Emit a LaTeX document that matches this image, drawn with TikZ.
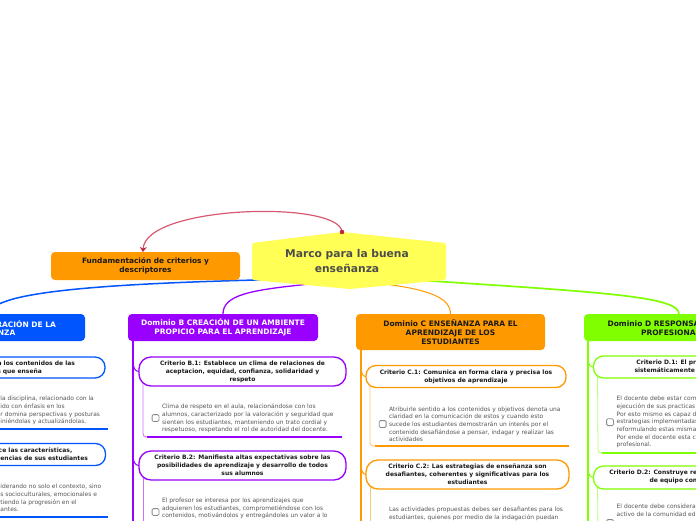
\documentclass[tikz,border=0pt]{standalone}
\usepackage{fontspec}
\setmainfont{DejaVu Sans}
\usetikzlibrary{arrows.meta}
\definecolor{cblue}{HTML}{0055FF}
\definecolor{cpurple}{HTML}{9900FF}
\definecolor{corange}{HTML}{FF9900}
\definecolor{cgreen}{HTML}{80FF00}
\definecolor{cyellow}{HTML}{FFFF55}
\definecolor{cred}{HTML}{D65A70}
\definecolor{cdred}{HTML}{C0283C}
\definecolor{descgray}{HTML}{555555}
\definecolor{textdark}{HTML}{1A1A1A}
\definecolor{centertext}{HTML}{4D4D4D}
\definecolor{boxgray}{HTML}{8A8A8A}
\pgfdeclarelayer{bg}
\pgfsetlayers{bg,main}
\tikzset{
  every node/.style={inner sep=0pt, outer sep=0pt},
  domainbox/.style={rounded corners=4pt, minimum height=27pt, minimum width=190pt},
  titletext/.style={font=\bfseries\fontsize{7.5}{8.7}\selectfont, align=center},
  pill/.style={draw, line width=1.3pt, fill=white, minimum width=207pt},
  crittext/.style={font=\bfseries\fontsize{6}{8}\selectfont, align=center, text=textdark},
  desctext/.style={font=\fontsize{5.95}{7.7}\selectfont, align=left, text=descgray, anchor=west},
  checkbox/.style={draw=boxgray, line width=0.8pt, fill=white, rounded corners=1.2pt, minimum size=6.8pt},
  colline/.style={line width=1.1pt},
  branch/.style={line width=1pt},
  stem/.style={line width=0.8pt},
  underline/.style={line width=2.6pt},
}
\begin{document}
\begin{tikzpicture}[x=1pt,y=-1pt]
\useasboundingbox (0,0) rectangle (696,520);

% ---------- central node ----------
\fill[cyellow, rounded corners=2.5pt] (252,243) -- (342,232) -- (446,243) -- (446,280) -- (350,289) -- (252,280) -- cycle;
\node[font=\bfseries\fontsize{10.7}{14.3}\selectfont, text=centertext, align=center] (center) at (347,261) {Marco para la buena\\enseñanza};
\coordinate (hubA) at (300,279);
\coordinate (hubB) at (310,284);
\coordinate (hubC) at (385,284);
\coordinate (hubD) at (400,279);
\coordinate (reddot) at (342,232);

% ---------- fundamentación ----------
\node[rounded corners=4pt, fill=corange, minimum width=189pt, minimum height=28pt,
      font=\bfseries\fontsize{7.4}{9.6}\selectfont, text=textdark, align=center] (fund) at (145.5,266) {Fundamentación de criterios y\\descriptores};
\draw[cred, line width=1.2pt, -{Stealth[length=5pt,width=7pt,color=cdred]}] (reddot) .. controls (340,200) and (145,205) .. ([xshift=-2.5pt]fund.north);
\fill[cdred] (reddot) circle (2.3pt);

% ---------- domain A ----------
\node[domainbox, fill=cblue] (adom) at (-10,327.5) {};
\node[titletext, text=white, anchor=east] (adomt) at (56,328) {Dominio A PREPARACIÓN DE LA\\ENSEÑANZA};
\node[pill, draw=cblue, minimum height=21pt, rounded corners=10pt] (a1) at (1.5,367.5) {};
\node[crittext, anchor=east] (a1t) at (75,367.5) {Criterio A.1: Domina los contenidos de las\\disciplinas que enseña};
\node[desctext] (a1d) at (0.5,410.7) {la disciplina, relacionado con la\\ido con énfasis en los\\r domina perspectivas y posturas\\iniéndolas y actualizándolas.};
\node[pill, draw=cblue, minimum height=22pt, rounded corners=10pt] (a2) at (2,454.5) {};
\node[crittext, anchor=east] (a2t) at (88,454.5) {Criterio A.2: Conoce las características,\\conocimientos y experiencias de sus estudiantes};
\node[desctext] (a2d) at (0.5,498) {iderando no solo el contexto, sino\\s socioculturales, emocionales e\\tiendo la progresión en el\\antes.};

% ---------- domain B ----------
\node[domainbox, fill=cpurple, titletext, text=white] (bdom) at (223,327.5) {Dominio B CREACIÓN DE UN AMBIENTE\\PROPICIO PARA EL APRENDIZAJE};
\node[pill, draw=cpurple, minimum height=29pt, rounded corners=12pt, crittext] (b1) at (242.5,371.5) {Criterio B.1: Establece un clima de relaciones de\\aceptacion, equidad, confianza, solidaridad y\\respeto};
\node[checkbox] (b1c) at (155.5,418) {};
\node[desctext] (b1d) at (162,418.5) {Clima de respeto en el aula, relacionándose con los\\alumnos, caracterizado por la valoración y seguridad que\\sienten los estudiantes, manteniendo un trato cordial y\\respetuoso, respetando el rol de autoridad del docente.};
\node[pill, draw=cpurple, minimum height=29pt, rounded corners=12pt, crittext] (b2) at (242.5,465.5) {Criterio B.2: Manifiesta altas expectativas sobre las\\posibilidades de aprendizaje y desarrollo de todos\\sus alumnos};
\node[checkbox] (b2c) at (155.5,512) {};
\node[desctext] (b2d) at (162,508.5) {El profesor se interesa por los aprendizajes que\\adquieren los estudiantes, comprometiéndose con los\\contenidos, motivándolos y entregándoles un valor a lo};

% ---------- domain C ----------
\node[domainbox, fill=corange, minimum width=189pt, minimum height=36pt, titletext, text=textdark] (cdom) at (450.5,332) {Dominio C ENSEÑANZA PARA EL\\APRENDIZAJE DE LOS\\ESTUDIANTES};
\node[pill, draw=corange, minimum width=200pt, minimum height=22pt, rounded corners=10pt, crittext] (c1) at (466,376.5) {Criterio C.1: Comunica en forma clara y precisa los\\objetivos de aprendizaje};
\node[checkbox] (c1c) at (382.7,424) {};
\node[desctext] (c1d) at (389,424.2) {Atribuirle sentido a los contenidos y objetivos denota una\\claridad en la comunicación de estos y cuando esto\\sucede los estudiantes demostrarán un interés por el\\contenido desafiándose a pensar, indagar y realizar las\\actividades};
\node[pill, draw=corange, minimum width=203pt, minimum height=29pt, rounded corners=12pt, crittext] (c2) at (467.5,474.5) {Criterio C.2: Las estrategias de enseñanza son\\desafiantes, coherentes y significativas para los\\estudiantes};
\node[desctext] (c2d) at (389,513.5) {Las actividades propuestas debes ser desafiantes para los\\estudiantes, quienes por medio de la indagación puedan};

% ---------- domain D ----------
\node[domainbox, fill=cgreen, titletext, text=textdark] (ddom) at (679,327.5) {};
\node[titletext, text=textdark] (ddomt) at (676,328) {Dominio D RESPONSABILIDADES\\PROFESIONALES};
\node[pill, draw=cgreen, minimum height=22pt, rounded corners=10pt] (d1) at (697,367) {};
\node[crittext, anchor=west] (d1t) at (634.5,367) {Criterio D.1: El profesor reflexiona\\sistemáticamente sobre su práctica};
\node[checkbox] (d1c) at (610,422.2) {};
\node[desctext] (d1d) at (616.7,422.2) {El docente debe estar comprometido con la\\ejecución de sus practicas pedagógicas,\\Por esto mismo es capaz de analizar las\\estrategias implementadas en el aula,\\reformulando estas mismas si es necesario.\\Por ende el docente esta comprometido\\profesional.};
\node[pill, draw=cgreen, minimum height=23pt, rounded corners=10pt] (d2) at (697,477.5) {};
\node[crittext, anchor=west] (d2t) at (609.3,477) {Criterio D.2: Construye relaciones profesionales y\\de equipo con sus colegas};
\node[checkbox] (d2c) at (610,523) {};
\node[desctext] (d2d) at (616.7,510.4) {El docente debe considerarse un miembro\\activo de la comunidad educativa};

% ---------- connectors (behind) ----------
\begin{pgfonlayer}{bg}
\fill[white] (0,0) rectangle (696,520);
% main branches
\draw[cblue, line width=1.5pt] (hubA) .. controls (100,283) and (-10,292) .. (adom.north);
\draw[cpurple, line width=1.3pt] (hubB) .. controls (250,290) and (223,295) .. (bdom.north);
\draw[corange, line width=1pt] (hubC) .. controls (430,290) and (450.5,298) .. (cdom.north);
\draw[cgreen, line width=1.7pt] (hubD) .. controls (600,292) and (679,296) .. (ddom.north);

% column B
\coordinate (bend) at (133,530);
\coordinate (bj1) at (133,360);
\coordinate (bj2) at (133,454);
\draw[colline, cpurple] ([xshift=5pt]bdom.south west) -- (bend);
\draw[branch, cpurple] (bj1) .. controls (133,368) and (135,371.5) .. (b1.west);
\draw[branch, cpurple] (bj2) .. controls (133,462) and (135,465.5) .. (b2.west);
\coordinate (b1ua) at (147,437);
\coordinate (b1ub) at (342,437);
\draw[stem, cpurple!55] ([xshift=4pt,yshift=3pt]b1.south west) -- (143,433) .. controls (143,436) and (144,437) .. (b1ua);
\draw[underline, cpurple] (b1ua) -- (b1ub);
\coordinate (b2end) at (143,530);
\draw[stem, cpurple!55] ([xshift=4pt,yshift=3pt]b2.south west) -- (b2end);

% column C
\coordinate (cend) at (361,530);
\coordinate (cj1) at (361,367);
\coordinate (cj2) at (361,464);
\draw[colline, corange] ([xshift=5pt]cdom.south west) -- (cend);
\draw[branch, corange] (cj1) .. controls (361,374) and (363,376.5) .. (c1.west);
\draw[branch, corange] (cj2) .. controls (361,471) and (363,474.5) .. (c2.west);
\coordinate (c1ua) at (375,446);
\coordinate (c1ub) at (569,446);
\draw[stem, corange!55] ([xshift=4pt,yshift=3pt]c1.south west) -- (370,442) .. controls (370,445) and (371,446) .. (c1ua);
\draw[underline, corange] (c1ua) -- (c1ub);
\coordinate (c2end) at (370,530);
\draw[stem, corange!55] ([xshift=4pt,yshift=3pt]c2.south west) -- (c2end);

% column D
\coordinate (dend) at (588,530);
\coordinate (dj1) at (588,358);
\coordinate (dj2) at (588,468);
\draw[colline, cgreen] ([xshift=4pt]ddom.south west) -- (dend);
\draw[branch, cgreen] (dj1) .. controls (588,364) and (590,367) .. (d1.west);
\draw[branch, cgreen] (dj2) .. controls (588,474) and (590,477.5) .. (d2.west);
\coordinate (d1ua) at (602,453);
\coordinate (d1ub) at (720,453);
\draw[stem, cgreen!55] ([xshift=4pt,yshift=3pt]d1.south west) -- (598,449) .. controls (598,452) and (599,453) .. (d1ua);
\draw[underline, cgreen] (d1ua) -- (d1ub);
\coordinate (d2end) at (598,530);
\draw[stem, cgreen!55] ([xshift=4pt,yshift=3pt]d2.south west) -- (d2end);

% column A underlines
\coordinate (a1ua) at (-100,429);
\coordinate (a1ub) at (108,429);
\draw[underline, cblue] (a1ua) -- (a1ub);
\coordinate (a2ua) at (-100,517);
\coordinate (a2ub) at (108,517);
\draw[underline, cblue] (a2ua) -- (a2ub);
\end{pgfonlayer}
\end{tikzpicture}
\end{document}
